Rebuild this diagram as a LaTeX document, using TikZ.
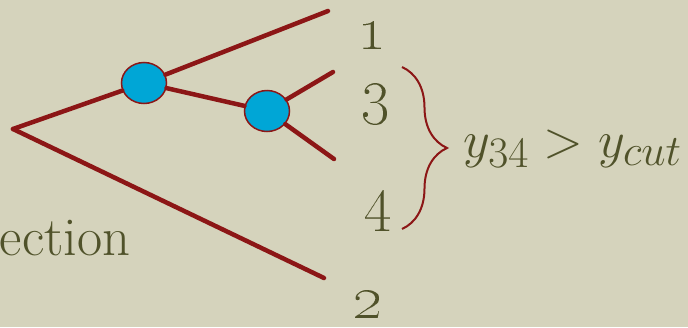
\documentclass[tikz,border=0pt]{standalone}
\usetikzlibrary{shapes.geometric,decorations.pathreplacing}
\definecolor{paper}{RGB}{213,211,188}
\definecolor{branch}{RGB}{140,22,22}
\definecolor{ink}{RGB}{80,82,42}
\definecolor{blobfill}{RGB}{0,166,214}
\begin{document}
\begin{tikzpicture}[x=1pt,y=-1pt,
    leg/.style={draw=branch,line width=4.5pt,line cap=round},
    blob/.style={ellipse,draw=branch,line width=1.5pt,fill=blobfill,
      minimum width=45pt,minimum height=41pt,inner sep=0pt},
    lab/.style={text=ink,inner sep=0pt,font=\Huge,scale=2.55},
    bigtext/.style={text=ink,inner sep=0pt,font=\Huge}]
    \fill[paper] (0,0) rectangle (688,327);
    \useasboundingbox (0,0) rectangle (688,327);
    % tree
    \coordinate (root) at (13,129);
    \node[blob] (vA) at (144,83) {};
    \node[blob] (vB) at (267,111) {};
    \coordinate (e1) at (328,11);
    \coordinate (e3) at (333,72);
    \coordinate (e4) at (334,159);
    \coordinate (e2) at (324,278);
    \draw[leg] (root) -- (vA);
    \draw[leg] (vA) -- (e1);
    \draw[leg] (vA) -- (vB);
    \draw[leg] (vB) -- (e3);
    \draw[leg] (vB) -- (e4);
    \draw[leg] (root) -- (e2);
    % labels
    \node[lab] (l1) at (372,36) {\oldstylenums{1}};
    \node[lab] (l3) at (376,104) {\oldstylenums{3}};
    \node[lab] (l4) at (378,211) {\oldstylenums{4}};
    \node[lab] (l2) at (368,305) {\oldstylenums{2}};
    \coordinate (btop) at (402,67);
    \coordinate (bbot) at (402,229);
    \draw[branch,line width=2pt,decorate,decoration={brace,amplitude=45pt}] (btop) -- (bbot);
    \node[bigtext,scale=2.1,anchor=base west] (cut) at (463,157) {$y_{34} > y_{cut}$};
    \node[bigtext,scale=2.2,anchor=base east] (sel) at (131,255) {ection};
  \end{tikzpicture}
\end{document}
